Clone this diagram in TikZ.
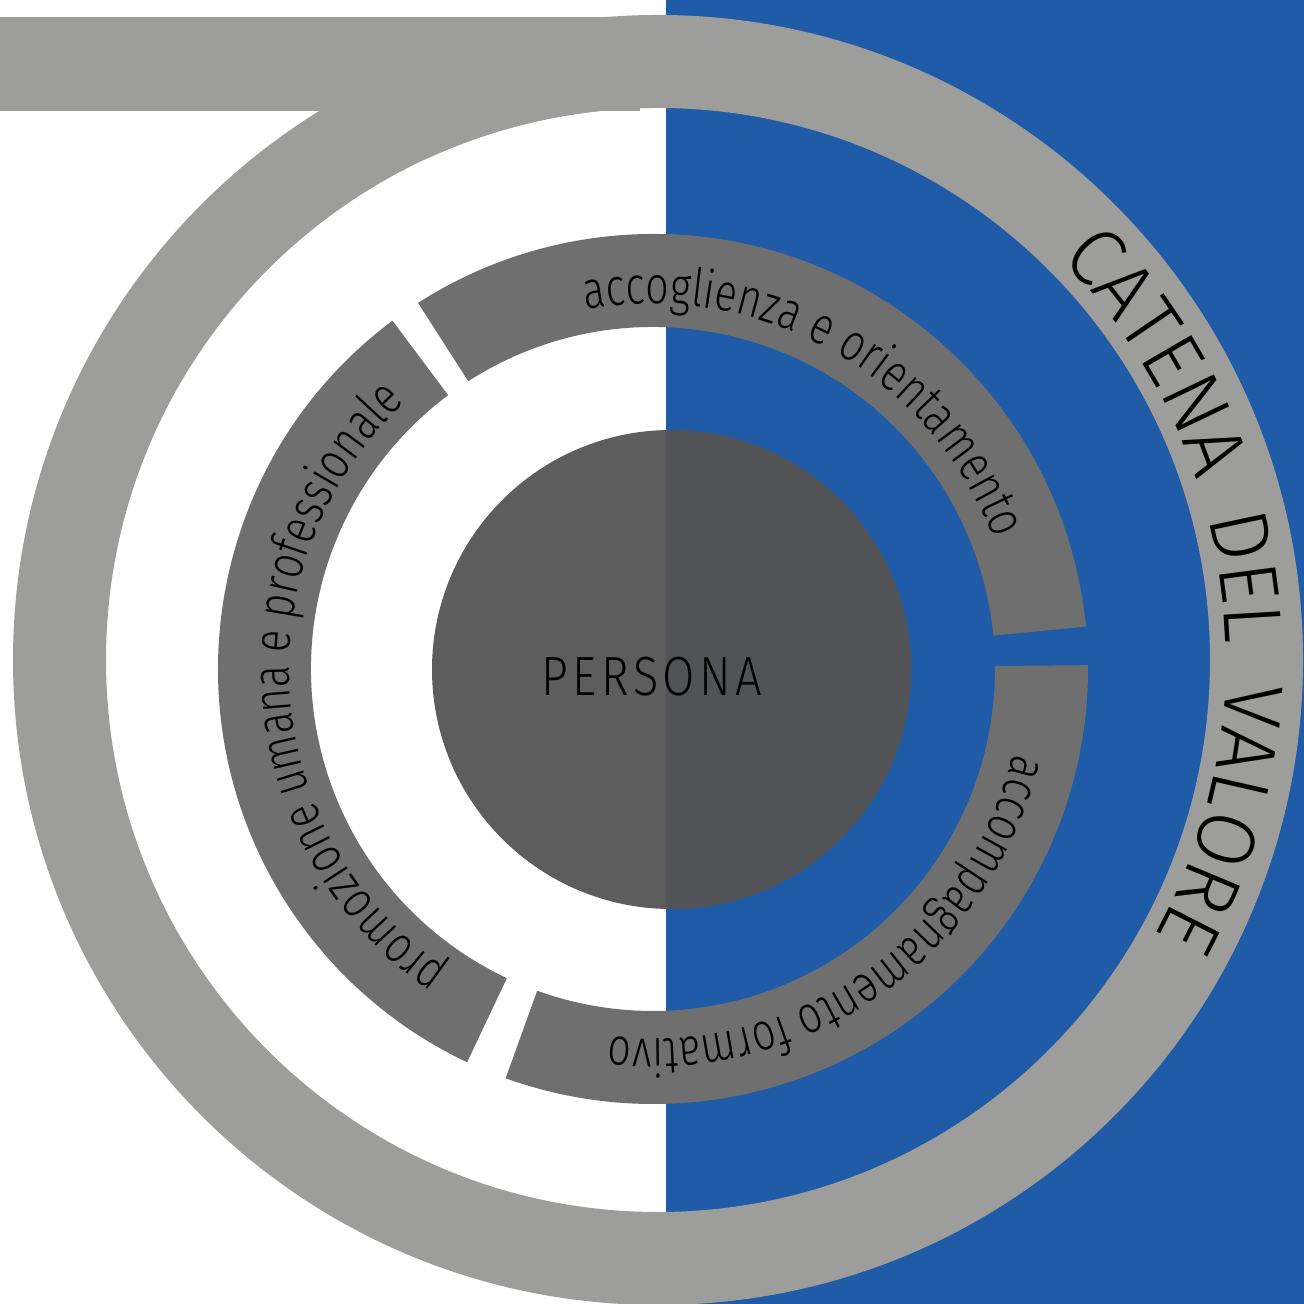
\documentclass[tikz,border=0pt]{standalone}
\usepackage{fontspec}
\usetikzlibrary{calc,decorations.text}
\newfontfamily\ringfont{Fira Sans Light}[FakeStretch=0.78]
\newfontfamily\chainfont{Fira Sans Light}[FakeStretch=0.95,LetterSpace=20]
\newfontfamily\namefont{Fira Sans Light}[FakeStretch=0.85,LetterSpace=8]
\definecolor{bluehalf}{HTML}{1F5BA6}
\definecolor{chaingray}{HTML}{9D9D9C}
\definecolor{stepgray}{HTML}{6F6F6F}
\definecolor{coreleft}{HTML}{5D5D5D}
\definecolor{coreright}{HTML}{525357}
\begin{document}
\begin{tikzpicture}[x=0.01cm, y=0.01cm]
  \tikzset{
    ring label/.style={decorate, decoration={text along path, text align=center,
      text={|\ringfont\fontsize{15}{18}\selectfont|#1}}},
    chain label/.style={decorate, decoration={text along path, text align=center,
      text={|\chainfont\fontsize{23.5}{28}\selectfont|#1}}}
  }
  \useasboundingbox (0,0) rectangle (1304,1304);
  \clip (0,0) rectangle (1304,1304);
  \coordinate (O) at (658,644);
  \coordinate (C) at (653,635);
  \coordinate (P) at (671.5,634.5);

  \fill[bluehalf] (666,0) rectangle (1304,1304);

  % catena: ring, top bar and the joint between them
  \fill[chaingray, even odd rule] (O) circle[radius=645] (O) circle[radius=552];
  \fill[chaingray] (0,1193) rectangle (640,1287);
  \fill[chaingray] ($(O)+(115:552)$) -- (524,1193) -- ($(O)+(94.9:552)$)
    arc[start angle=94.9, end angle=115, radius=552] -- cycle;

  % the three steps
  \foreach \a/\b in {5.6/122.7, 126.8/244.7, 250.2/360.5}
    \fill[stepgray] ($(C)+(\a:435)$) arc[start angle=\a, end angle=\b, radius=435]
      -- ($(C)+(\b:342)$) arc[start angle=\b, end angle=\a, radius=342] -- cycle;

  % core
  \fill[coreleft] (P) circle[radius=239.5];
  \begin{scope}
    \clip (666,0) rectangle (1304,1304);
    \fill[coreright] (P) circle[radius=239.5];
  \end{scope}
  \node[font=\namefont\fontsize{15.7}{18}\selectfont] (persona) at (652,627) {PERSONA};

  \path[ring label={accoglienza e orientamento}] ($(C)+(120:365)$)
    arc[start angle=120, end angle=1.4, radius=365];
  \path[ring label={accompagnamento formativo}] ($(C)+(-2:370)$)
    arc[start angle=-2, end angle=-108, radius=370];
  \path[ring label={promozione umana e professionale}] ($(C)+(240:364)$)
    arc[start angle=240, end angle=128.6, radius=364];
  \path[chain label={CATENA DEL VALORE}] ($(O)+(84:568)$)
    arc[start angle=84, end angle=-68, radius=568];
\end{tikzpicture}
\end{document}
